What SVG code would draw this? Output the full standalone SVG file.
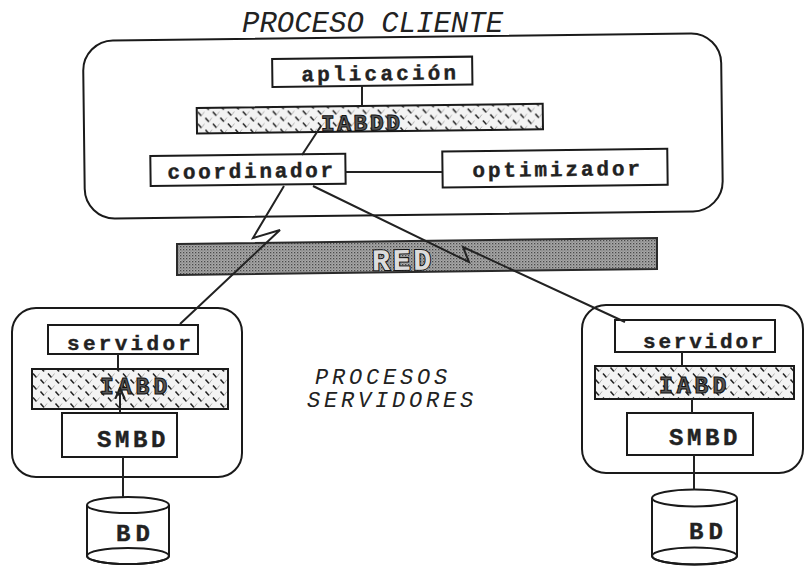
<svg xmlns="http://www.w3.org/2000/svg" width="808" height="566" viewBox="0 0 808 566">
<style>
.box{fill:#fff;stroke:#1a1a1a;stroke-width:2}
.outer{fill:#fff;stroke:#1a1a1a;stroke-width:2}
.hatch{fill:url(#hatch);stroke:#1a1a1a;stroke-width:2}
.lbl{font-family:"Liberation Mono","DejaVu Sans Mono",monospace;font-weight:bold;font-size:21px;letter-spacing:2.9px;fill:#222;stroke:#222;stroke-width:0.4}
.big{font-family:"Liberation Mono","DejaVu Sans Mono",monospace;font-weight:bold;font-size:24px;fill:#222;stroke:#222;stroke-width:0.4}
.onhatch{font-family:"Liberation Mono","DejaVu Sans Mono",monospace;font-weight:bold;font-size:23px;fill:#555;stroke:#111;stroke-width:1}
.ital{font-family:"Liberation Mono","DejaVu Sans Mono",monospace;font-style:italic;fill:#222}
.ln{fill:none;stroke:#222;stroke-width:2}
</style>
<defs>
<pattern id="hatch" width="15" height="12" patternUnits="userSpaceOnUse">
<rect width="15" height="12" fill="#f3f3f3"/>
<path d="M3,1.5 L6.5,5.5 M10.5,7.5 L14,11.5" stroke="#222" stroke-width="1.5" fill="none"/>
<path d="M6.5,5.5 L9.5,1.5 M14,11.5 L17,7.5 M-1,11.5 L2,7.5" stroke="#9a9a9a" stroke-width="0.8" fill="none"/>
</pattern>
<pattern id="stip" width="3" height="3" patternUnits="userSpaceOnUse">
<rect width="3" height="3" fill="#a8a8a8"/>
<rect x="0" y="0" width="1.3" height="1.3" fill="#4a4a4a"/>
<rect x="1.5" y="1.5" width="1" height="1" fill="#6a6a6a"/>
</pattern>
<marker id="arr" viewBox="0 0 10 10" refX="5" refY="5" markerWidth="6" markerHeight="6" orient="auto">
<path d="M0,1 L9,5 L0,9" fill="none" stroke="#222" stroke-width="1.8"/>
</marker>
</defs>

<text class="ital" x="242" y="32" font-size="29">PROCESO CLIENTE</text>

<g id="proceso-cliente" transform="rotate(-0.7 400 130)">
<rect class="outer" x="84" y="37" width="638" height="178" rx="30"/>
</g>

<g id="aplicacion" transform="rotate(-0.7 400 130)">
<rect class="box" x="273" y="57.5" width="200" height="28"/>
<text class="lbl" x="302" y="80" style="letter-spacing:3.2px">aplicación</text>
</g>

<g id="iabdd" transform="rotate(-0.7 400 130)">
<rect class="hatch" x="197" y="105.5" width="346" height="25.5"/>
<text class="onhatch" x="321" y="130" style="letter-spacing:2.5px">IABDD</text>
</g>

<g id="coordinador" transform="rotate(-0.7 400 130)">
<rect class="box" x="150" y="153" width="195" height="30"/>
<text class="lbl" x="167" y="176" style="letter-spacing:2.7px">coordinador</text>
</g>

<g id="optimizador" transform="rotate(-0.7 400 130)">
<rect class="box" x="442" y="152" width="225" height="36"/>
<text class="lbl" x="472" y="178">optimizador</text>
</g>

<g id="red">
<polygon points="177,244 657,238 657,269 177,275" fill="url(#stip)" stroke="#2a2a2a" stroke-width="2"/>
<text x="372" y="270" font-family="Liberation Mono, DejaVu Sans Mono, monospace" font-weight="bold" font-size="30" letter-spacing="2.5" fill="#dcdcdc" stroke="#151515" stroke-width="2" paint-order="stroke" transform="rotate(-0.7 400 260)">RED</text>
</g>

<text class="ital" font-size="22" letter-spacing="3.8"><tspan x="315" y="384">PROCESOS</tspan><tspan x="307" y="407">SERVIDORES</tspan></text>

<g id="servidor-izq">
<rect class="outer" x="12" y="308" width="230" height="169" rx="24"/>
<rect class="box" x="48" y="325" width="150" height="29"/>
<text class="lbl" x="67" y="350" style="letter-spacing:3.3px">servidor</text>
</g>
<g id="iabd-izq">
<rect class="hatch" x="32" y="369" width="196" height="40"/>
<text class="onhatch" x="100" y="394" style="letter-spacing:4px">IABD</text>
</g>
<g id="smbd-izq">
<rect class="box" x="62" y="413" width="115" height="44"/>
<text class="big" x="97" y="447" letter-spacing="3.6">SMBD</text>
</g>
<g id="bd-izq">
<path class="box" d="M87,505 V556 A41,8 0 0 0 169,556 V505"/>
<ellipse class="box" cx="128" cy="505" rx="41" ry="8"/>
<ellipse cx="128" cy="556" rx="41" ry="8" fill="none" stroke="#1a1a1a" stroke-width="2"/>
<text class="big" x="116" y="541" font-size="20" letter-spacing="5">BD</text>
</g>

<g id="servidor-der">
<rect class="outer" x="582" y="305" width="221" height="168" rx="24"/>
<rect class="box" x="615" y="320" width="160" height="32"/>
<text class="lbl" x="643" y="348" style="letter-spacing:2.8px">servidor</text>
</g>
<g id="iabd-der">
<rect class="hatch" x="595" y="366" width="199" height="33"/>
<text class="onhatch" x="659" y="393" style="letter-spacing:4px">IABD</text>
</g>
<g id="smbd-der">
<rect class="box" x="627" y="413" width="126" height="42"/>
<text class="big" x="669" y="445" letter-spacing="3.6">SMBD</text>
</g>
<g id="bd-der">
<path class="box" d="M652,498 V556 A42.5,8.5 0 0 0 737,556 V498"/>
<ellipse class="box" cx="694.5" cy="498" rx="42.5" ry="8.5"/>
<ellipse cx="694.5" cy="556" rx="42.5" ry="8.5" fill="none" stroke="#1a1a1a" stroke-width="2"/>
<text class="big" x="689" y="539" font-size="20" letter-spacing="5">BD</text>
</g>

<g id="connectors">
<path class="ln" d="M362,85 V105"/>
<path class="ln" d="M321,126 L302,155"/>
<path class="ln" d="M345,172 H442"/>
<path class="ln" d="M284,186 L253,238 L280,230 L180,324"/>
<path class="ln" d="M313,186 L469,262 L463,247 L625,322"/>
<path class="ln" d="M118,354 V369"/>
<path class="ln" d="M120,413 V393" marker-end="url(#arr)"/>
<path class="ln" d="M123,457 V497"/>
<path class="ln" d="M682,352 V366"/>
<path class="ln" d="M692,399 V413"/>
<path class="ln" d="M694,455 V489.5"/>
</g>
</svg>
